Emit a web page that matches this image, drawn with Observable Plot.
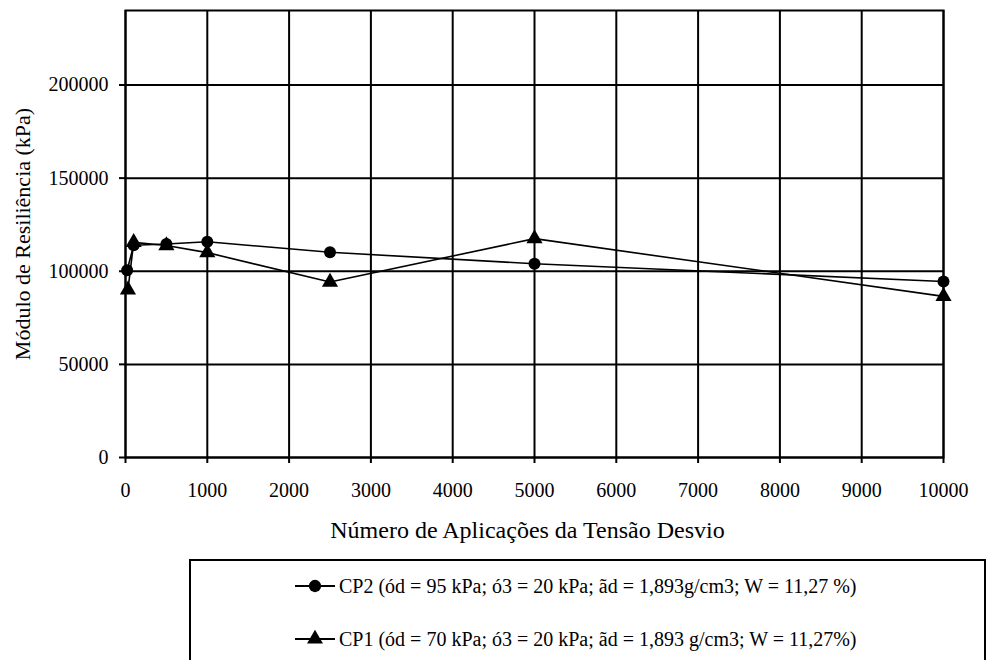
<!DOCTYPE html>
<html>
<head>
<meta charset="utf-8">
<script src="https://cdn.jsdelivr.net/npm/d3@7"></script>
<script src="https://cdn.jsdelivr.net/npm/@observablehq/plot@0.6"></script>
<style>
  html, body { margin: 0; padding: 0; background: #fff; overflow: hidden; }
  body { width: 993px; height: 660px; position: relative; font-family: "Liberation Serif", "Times New Roman", serif; }
  #chart { position: absolute; left: 0; top: 0; }
  #chart svg, #chart svg text { font-family: "Liberation Serif", "Times New Roman", serif !important; }
  #legend { position: absolute; left: 189px; top: 559px; width: 797px; height: 140px; border: 2px solid #000; box-sizing: border-box; background: #fff; }
  .row { position: absolute; left: 0; height: 24px; display: flex; align-items: center; font-size: 20px; color: #000; white-space: nowrap; }
  .row svg { margin-left: 104px; margin-right: 4px; }
</style>
</head>
<body>
<div id="chart"></div>
<div id="legend"></div>
<script>
const xValues = [20, 100, 500, 1000, 2500, 5000, 10000];
const xValuesCP1 = [30, 100, 500, 1000, 2500, 5000, 10000];
const cp2Values = [100500, 114000, 114600, 115800, 110200, 104000, 94500];
const cp1Values = [90000, 115500, 113800, 110000, 94200, 117500, 86500];
const xTicks = [0, 1000, 2000, 3000, 4000, 5000, 6000, 7000, 8000, 9000, 10000];
const yTicks = [0, 50000, 100000, 150000, 200000];
const seriesNames = [
  "CP2 (ód = 95 kPa; ó3 = 20 kPa; ãd = 1,893g/cm3; W = 11,27 %)",
  "CP1 (ód = 70 kPa; ó3 = 20 kPa; ãd = 1,893 g/cm3; W = 11,27%)"
];
const xTitle = "Número de Aplicações da Tensão Desvio";
const yTitle = "Módulo de Resiliência (kPa)";

const cp2 = xValues.map((x, i) => ({x, y: cp2Values[i]}));
const cp1 = xValuesCP1.map((x, i) => ({x, y: cp1Values[i]}));
const serif = "Liberation Serif";

const chart = Plot.plot({
  width: 993,
  height: 550,
  marginLeft: 125,
  marginRight: 50,
  marginTop: 10,
  marginBottom: 93,
  style: {fontFamily: serif, fontSize: "20px", color: "#000", background: "#fff"},
  x: {domain: [0, 10000]},
  y: {domain: [0, 240000]},
  marks: [
    Plot.gridX(xTicks, {stroke: "#000", strokeOpacity: 1, strokeWidth: 2}),
    Plot.gridY(yTicks, {stroke: "#000", strokeOpacity: 1, strokeWidth: 2}),
    Plot.frame({stroke: "#000", strokeWidth: 2}),
    Plot.axisX(xTicks, {tickSize: 6, tickPadding: 19, strokeWidth: 2, tickFormat: d => String(d), label: null, fontSize: 20, fontFamily: serif}),
    Plot.axisY(yTicks, {tickSize: 6, tickPadding: 11, strokeWidth: 2, tickFormat: d => String(d), label: null, fontSize: 20, fontFamily: serif}),
    Plot.text([xTitle], {frameAnchor: "bottom", dx: -7, dy: 73, lineAnchor: "middle", textAnchor: "middle", fontSize: 24, fontFamily: serif, fill: "#000", text: d => d}),
    Plot.text([yTitle], {frameAnchor: "left", dx: -103, rotate: -90, lineAnchor: "middle", textAnchor: "middle", fontSize: 22, fontFamily: serif, fill: "#000", text: d => d}),
    Plot.line(cp2, {x: "x", y: "y", stroke: "#000", strokeWidth: 1.6}),
    Plot.line(cp1, {x: "x", y: "y", stroke: "#000", strokeWidth: 1.6}),
    Plot.dot(cp2, {x: "x", y: "y", symbol: "circle", r: 6, fill: "#000", stroke: "none"}),
    Plot.dot(cp1, {x: "x", y: "y", symbol: "triangle", r: 6, fill: "#000", stroke: "none"})
  ]
});
document.getElementById("chart").appendChild(chart);

const legend = document.getElementById("legend");
const rowTops = [13, 66];
const symbols = ["circle", "triangle"];
seriesNames.forEach((name, i) => {
  const row = document.createElement("div");
  row.className = "row";
  row.style.top = rowTops[i] + "px";
  const ns = "http://www.w3.org/2000/svg";
  const svg = document.createElementNS(ns, "svg");
  svg.setAttribute("width", 40);
  svg.setAttribute("height", 24);
  const line = document.createElementNS(ns, "line");
  line.setAttribute("x1", 0); line.setAttribute("x2", 40);
  line.setAttribute("y1", 12); line.setAttribute("y2", 12);
  line.setAttribute("stroke", "#000"); line.setAttribute("stroke-width", 2);
  svg.appendChild(line);
  const path = document.createElementNS(ns, "path");
  const sym = symbols[i] === "circle" ? d3.symbolCircle : d3.symbolTriangle;
  path.setAttribute("d", d3.symbol(sym, symbols[i] === "circle" ? 120 : 110)());
  path.setAttribute("transform", "translate(20,12)");
  path.setAttribute("fill", "#000");
  svg.appendChild(path);
  row.appendChild(svg);
  const span = document.createElement("span");
  span.textContent = name;
  row.appendChild(span);
  legend.appendChild(row);
});
</script>
</body>
</html>
